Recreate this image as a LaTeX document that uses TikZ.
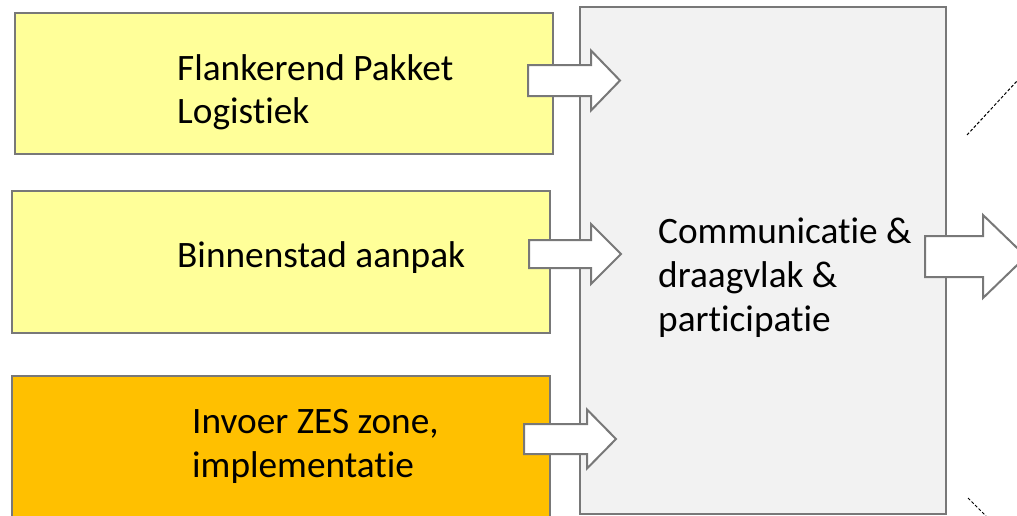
\documentclass[tikz,border=0pt]{standalone}
\usepackage{fontspec}
\setmainfont{Carlito}[Ligatures=NoCommon]
\definecolor{boxyellow}{HTML}{FFFF99}
\definecolor{boxorange}{HTML}{FFC000}
\definecolor{boxgray}{HTML}{F2F2F2}
\definecolor{edgegray}{HTML}{787878}
\begin{document}
\begin{tikzpicture}[x=1pt,y=-1pt,
  box/.style={draw=edgegray, line width=2pt, rectangle, inner sep=0pt, anchor=north west},
  txt/.style={inner sep=0pt, align=left, anchor=base west, font=\fontsize{37.3}{43.5}\selectfont},
  arr/.style={draw=edgegray, line width=2pt, fill=white, line join=miter},
  dashline/.style={draw=black, line width=1pt, dash pattern=on 3pt off 2pt},
  pics/blockarr/.style n args={4}{code={
    \draw[arr] (0,-#1)--(#3,-#1)--(#3,-#2)--(#3+#4,0)--(#3,#2)--(#3,#1)--(0,#1)--cycle;}}
]
\useasboundingbox (0,0) rectangle (1017,515);
\clip (0,0) rectangle (1017,515);
% boxes
\node[box, fill=boxyellow, minimum width=538pt, minimum height=141pt] (b1) at (14,12) {};
\node[box, fill=boxyellow, minimum width=538pt, minimum height=142pt] (b2) at (11,190) {};
\node[box, fill=boxorange, minimum width=538pt, minimum height=150pt] (b3) at (11,375) {};
\node[box, fill=boxgray, minimum width=366pt, minimum height=507pt] (c) at (579,6) {};
% texts (anchor at baseline of last line)
\node[txt] (t1) at (177,123.5) {Flankerend Pakket\\Logistiek};
\node[txt] (t2) at (177,267) {Binnenstad aanpak};
\node[txt] (t3) at (192,477) {Invoer ZES zone,\\implementatie};
\node[txt, font=\fontsize{37.3}{44}\selectfont] (t4) at (658,331) {Communicatie \&\\draagvlak \&\\participatie};
% block arrows
\pic (a1) at (528,80.5) {blockarr={15.5}{30}{63}{29}};
\pic (a2) at (529,254) {blockarr={14}{30}{62}{30}};
\pic (a3) at (524,439) {blockarr={15}{29.5}{63}{29}};
\pic (a4) at (925,256.5) {blockarr={20.5}{41.5}{58}{43}};
% dashed callout lines
\coordinate (d1) at (967,135);
\coordinate (d2) at (1017,81);
\coordinate (d3) at (968,498);
\coordinate (d4) at (986,516);
\draw[dashline] (d1) -- (d2);
\draw[dashline] (d3) -- (d4);
\end{tikzpicture}
\end{document}
